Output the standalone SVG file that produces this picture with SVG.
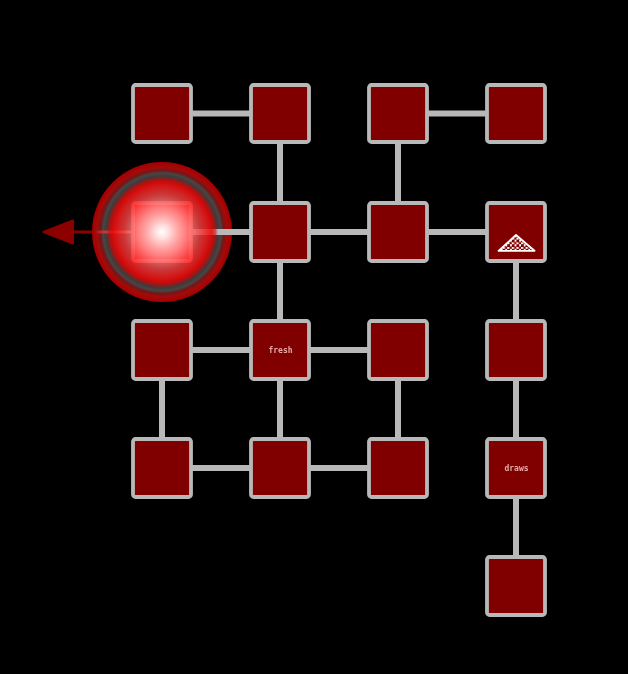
<svg xmlns="http://www.w3.org/2000/svg" width="628" height="674" viewBox="0 0 628 674">
<defs>
<style>
.n{fill:#800000;stroke:#b8b8b8;stroke-width:3.800}
.c{stroke:#b8b8b8;stroke-width:6;fill:none}
.t{font-family:"DejaVu Sans Mono","Liberation Mono",monospace;font-size:8px;font-weight:bold;fill:#e8a8a8;text-anchor:middle}
</style>
<filter id="soft" x="-10%" y="-30%" width="120%" height="160%"><feGaussianBlur stdDeviation="0.4"/></filter>
<radialGradient id="ring" gradientUnits="userSpaceOnUse" cx="162" cy="232" r="70">
<stop offset="0" stop-color="#3c3c3c"/>
<stop offset=".8" stop-color="#3c3c3c"/>
<stop offset=".84" stop-color="#4c4444"/>
<stop offset=".88" stop-color="#701818"/>
<stop offset=".93" stop-color="#a80808"/>
<stop offset="1" stop-color="#a00000"/>
</radialGradient>
<radialGradient id="g" gradientUnits="userSpaceOnUse" cx="162" cy="232" r="56">
<stop offset="0" stop-color="#fff"/>
<stop offset=".12" stop-color="#ffe4e4" stop-opacity=".97"/>
<stop offset=".42" stop-color="#ff9c9c" stop-opacity=".78"/>
<stop offset=".68" stop-color="#f83434" stop-opacity=".76"/>
<stop offset=".88" stop-color="#f00000" stop-opacity=".85"/>
<stop offset=".95" stop-color="#d80000" stop-opacity=".6"/>
<stop offset="1" stop-color="#d00000" stop-opacity="0"/>
</radialGradient>
<linearGradient id="ln" gradientUnits="userSpaceOnUse" x1="75" y1="0" x2="135" y2="0">
<stop offset=".28" stop-color="#8c0000"/>
<stop offset=".45" stop-color="#c03030"/>
<stop offset="1" stop-color="#ff9090"/>
</linearGradient>
<pattern id="ck" width="4.600" height="4.600" patternUnits="userSpaceOnUse" x="498" y="235"><rect width="4.600" height="4.600" fill="#fff"/><rect width="2.800" height="2.800" fill="#800000"/><rect x="2.300" y="2.300" width="2.300" height="2.300" fill="#800000"/></pattern>
</defs>
<rect width="628" height="674" fill="#000"/>
<circle id="halo" cx="162" cy="232" r="70" fill="url(#ring)"/>
<g id="connectors">
<path class="c" d="M162 113.500H280M398 113.500H516M280 113.500V232M398 113.500V232M162 232H516M516 232V586M280 232V468M162 350H398M162 350V468M398 350V468M162 468H398"/>
<path d="M135 232H74" stroke="url(#ln)" stroke-width="3" fill="none"/>
<path d="M43.500 232L73 220.500V243.500Z" fill="#8c0000" stroke="#8c0000" stroke-width="2" stroke-linejoin="round"/>
</g>
<g id="n1"><rect class="n" x="133" y="85" width="58" height="57" rx="2.500"/></g>
<g id="n2"><rect class="n" x="251" y="85" width="58" height="57" rx="2.500"/></g>
<g id="n3"><rect class="n" x="369" y="85" width="58" height="57" rx="2.500"/></g>
<g id="n4"><rect class="n" x="487" y="85" width="58" height="57" rx="2.500"/></g>
<g id="n5"><rect class="n" x="133" y="203" width="58" height="58" rx="2.500" style="fill:#ff2020;stroke:#ff7070"/></g>
<g id="n6"><rect class="n" x="251" y="203" width="58" height="58" rx="2.500"/></g>
<g id="n7"><rect class="n" x="369" y="203" width="58" height="58" rx="2.500"/></g>
<g id="n8"><rect class="n" x="487" y="203" width="58" height="58" rx="2.500"/><path d="M498.500 250.800L516 235L534.500 250.800Z" fill="url(#ck)" stroke="#fff" stroke-width="1.800" stroke-linejoin="round"/></g>
<g id="n9"><rect class="n" x="133" y="321" width="58" height="58" rx="2.500"/></g>
<g id="n10"><rect class="n" x="251" y="321" width="58" height="58" rx="2.500"/><text class="t" x="280.500" y="353" filter="url(#soft)">fresh</text></g>
<g id="n11"><rect class="n" x="369" y="321" width="58" height="58" rx="2.500"/></g>
<g id="n12"><rect class="n" x="487" y="321" width="58" height="58" rx="2.500"/></g>
<g id="n13"><rect class="n" x="133" y="439" width="58" height="58" rx="2.500"/></g>
<g id="n14"><rect class="n" x="251" y="439" width="58" height="58" rx="2.500"/></g>
<g id="n15"><rect class="n" x="369" y="439" width="58" height="58" rx="2.500"/></g>
<g id="n16"><rect class="n" x="487" y="439" width="58" height="58" rx="2.500"/><text class="t" x="516.500" y="471" filter="url(#soft)">draws</text></g>
<g id="n17"><rect class="n" x="487" y="557" width="58" height="58" rx="2.500"/></g>
<circle id="glow" cx="162" cy="232" r="56" fill="url(#g)"/>
</svg>
